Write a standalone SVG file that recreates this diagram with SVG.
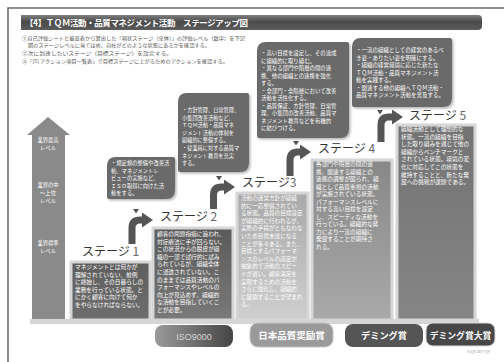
<svg xmlns="http://www.w3.org/2000/svg" width="504" height="362" viewBox="0 0 504 362">
<defs>
<style>
text{font-family:"Noto Sans CJK JP","Noto Sans CJK SC",sans-serif}
.hd{font-size:8.5px;font-weight:700;fill:#fff}
.ins{font-size:5px;fill:#555}
.lbl{font-size:12px;fill:#333}
.lbl tspan.n{fill:#666}
.bt{font-size:5.7px;fill:#fff}
.ct{font-size:5.3px;fill:#fff}
.at{font-size:5.3px;fill:#fff;text-anchor:middle}
.call{fill:#6a6a6a;filter:url(#sh)}
.stg{stroke:#d6d6d6;stroke-width:3}
.curv{stroke:#555;stroke-width:7;fill:none;marker-end:url(#ah)}
.tri{fill:#555}
.aw{font-size:9.5px;font-weight:700;fill:#fff;text-anchor:middle}
</style>
<marker id="ah" markerUnits="userSpaceOnUse" markerWidth="11" markerHeight="15" viewBox="0 0 11 15" refX="0" refY="7.5" orient="auto">
<path d="M0,0 L11,7.5 L0,15 Z" fill="#555"/>
</marker>
<filter id="sh" x="-10%" y="-10%" width="130%" height="130%">
<feDropShadow dx="1.5" dy="1.5" stdDeviation="1" flood-color="#000" flood-opacity="0.3"/>
</filter>
<linearGradient id="ghd" x1="0" y1="0" x2="0" y2="1"><stop offset="0" stop-color="#808080"/><stop offset="0.45" stop-color="#4a4a4a"/><stop offset="1" stop-color="#5c5c5c"/></linearGradient>
<linearGradient id="g1" x1="0" y1="0" x2="0" y2="1"><stop offset="0" stop-color="#5e5e5e"/><stop offset="1" stop-color="#6e6e6e"/></linearGradient>
<linearGradient id="g2" x1="0" y1="0" x2="0" y2="1"><stop offset="0" stop-color="#5a5a5a"/><stop offset="1" stop-color="#7a7a7a"/></linearGradient>
<linearGradient id="g3" x1="0" y1="0" x2="0" y2="1"><stop offset="0" stop-color="#a9a9a9"/><stop offset="1" stop-color="#cfcfcf"/></linearGradient>
<linearGradient id="g4" x1="0" y1="0" x2="0" y2="1"><stop offset="0" stop-color="#888"/><stop offset="1" stop-color="#a9a9a9"/></linearGradient>
<linearGradient id="g5" x1="0" y1="0" x2="0" y2="1"><stop offset="0" stop-color="#737373"/><stop offset="1" stop-color="#858585"/></linearGradient>
<linearGradient id="giso" x1="0" y1="0" x2="1" y2="0"><stop offset="0" stop-color="#9a9a9a"/><stop offset="1" stop-color="#454545"/></linearGradient>
</defs>

<rect width="504" height="362" fill="#fff"/>
<!-- page frame -->
<path d="M8,362 V8 H504" fill="none" stroke="#6e6e6e" stroke-width="1.6"/>

<!-- header -->
<g id="header">
<path d="M21,15 H478 Q482,15 482,19 V26 Q482,30 478,30 H21 Z" fill="url(#ghd)"/>
<text class="hd" x="25" y="26" textLength="223" lengthAdjust="spacing">【4】ＴＱＭ活動・品質マネジメント活動　ステージアップ図</text>
</g>

<g id="instructions">
<text class="ins" x="22" y="40" textLength="223" lengthAdjust="spacingAndGlyphs">①自己評価シートと審査表から算出した「現状ステージ（全体）」の評価レベル（数字）を下記</text>
<text class="ins" x="28" y="47" textLength="182" lengthAdjust="spacingAndGlyphs">図のステージレベルに当てはめ、自社がどのような状態にあるかを確認する。</text>
<text class="ins" x="22" y="55" textLength="150" lengthAdjust="spacingAndGlyphs">②次に到達したいステージ（目標ステージ）を設定する。</text>
<text class="ins" x="22" y="63" textLength="206" lengthAdjust="spacingAndGlyphs">③「[5] アクション項目一覧表」で目標ステージに上がるためのアクションを確認する。</text>
</g>

<!-- level arrow -->
<g id="level-arrow">
<polygon points="48,117 70,135 65,135 65,320 32,320 32,135 27,135" fill="#8a8a8a"/>
<text class="at"><tspan x="48" y="142">業界最高</tspan><tspan x="48" y="150">レベル</tspan></text>
<text class="at"><tspan x="48" y="187">業界の中</tspan><tspan x="48" y="195">〜上位</tspan><tspan x="48" y="203">レベル</tspan></text>
<text class="at"><tspan x="48" y="245">業界標準</tspan><tspan x="48" y="253">レベル</tspan></text>
</g>

<rect x="30" y="319" width="449" height="5" fill="#d6d6d6"/>

<!-- stage 1 -->
<g id="stage1">
<text class="lbl" x="82" y="256">ステージ <tspan class="n">1</tspan></text>
<rect class="stg" x="71" y="262" width="79" height="58" fill="url(#g1)"/>
<text class="bt">
<tspan x="75" y="269">マネジメントとは何かが</tspan>
<tspan x="75" y="276.6">理解されていない、前例</tspan>
<tspan x="75" y="284.2">に終始し、その日暮らしの</tspan>
<tspan x="75" y="291.8">業務を行っている状態。と</tspan>
<tspan x="75" y="299.4">にかく顧客に向けて何か</tspan>
<tspan x="75" y="307">をやらなければならない。</tspan>
</text>
</g>

<!-- stage 2 -->
<g id="stage2">
<text class="lbl" x="160" y="221">ステージ <tspan class="n">2</tspan></text>
<rect class="stg" x="153" y="228" width="80" height="92" fill="url(#g2)"/>
<text class="bt">
<tspan x="157" y="236">顧客の問題指摘に追われ、</tspan>
<tspan x="157" y="243.6">対症療法に手が回らない。</tspan>
<tspan x="157" y="251.2">この状況からの脱皮が組</tspan>
<tspan x="157" y="258.8">織の一部で試行的に試み</tspan>
<tspan x="157" y="266.4">られているが、組織全体</tspan>
<tspan x="157" y="274">に浸透されていない。こ</tspan>
<tspan x="157" y="281.6">のままでは品質活動のパ</tspan>
<tspan x="157" y="289.2">フォーマンスやレベルの</tspan>
<tspan x="157" y="296.8">向上が見込めず、組織的</tspan>
<tspan x="157" y="304.4">な活動を目指していくこ</tspan>
<tspan x="157" y="312">とが必要。</tspan>
</text>
</g>

<!-- stage 3 -->
<g id="stage3">
<text class="lbl" x="242" y="187">ステージ<tspan class="n">3</tspan></text>
<rect class="stg" x="237" y="193" width="71" height="127" fill="url(#g3)"/>
<text class="bt" style="font-size:5.6px">
<tspan x="241" y="200">活動の運営方針が組織</tspan>
<tspan x="241" y="207.6">的に一応整備されてい</tspan>
<tspan x="241" y="215.2">る状態。品質の目標設定</tspan>
<tspan x="241" y="222.8">が組織的に行われるが、</tspan>
<tspan x="241" y="230.4">実際の手段がともなわな</tspan>
<tspan x="241" y="238">いため目標未達になる</tspan>
<tspan x="241" y="245.6">ことが多々ある。また、</tspan>
<tspan x="241" y="253.2">目標とするパフォーマ</tspan>
<tspan x="241" y="260.8">ンスのレベルの設定が</tspan>
<tspan x="241" y="268.4">抽象的で活動のスピー</tspan>
<tspan x="241" y="276">ドが遅い。顧客満足を</tspan>
<tspan x="241" y="283.6">実現するための活動を</tspan>
<tspan x="241" y="291.2">さらに強化し、組織的</tspan>
<tspan x="241" y="298.8">に展開することが望まれ</tspan>
<tspan x="241" y="306.4">る。</tspan>
</text>
</g>

<!-- stage 4 -->
<g id="stage4">
<text class="lbl" x="318" y="153">ステージ <tspan class="n">4</tspan></text>
<rect class="stg" x="312" y="160" width="80" height="160" fill="url(#g4)"/>
<text class="bt">
<tspan x="316" y="166">各部門や階層の間の連</tspan>
<tspan x="316" y="173.5">携、関連する組織との</tspan>
<tspan x="316" y="181">連携の調整が図られ、組</tspan>
<tspan x="316" y="188.5">織として品質重視の活動</tspan>
<tspan x="316" y="196">が実施されている状態。</tspan>
<tspan x="316" y="203.5">パフォーマンスレベルに</tspan>
<tspan x="316" y="211">対する高い目標を設定</tspan>
<tspan x="316" y="218.5">し、スピーディな活動を</tspan>
<tspan x="316" y="226">行っている。組織的な努</tspan>
<tspan x="316" y="233.5">力により一流の組織に</tspan>
<tspan x="316" y="241">発展することが期待さ</tspan>
<tspan x="316" y="248.5">れる。</tspan>
</text>
</g>

<!-- stage 5 -->
<g id="stage5">
<text class="lbl" x="409" y="120">ステージ <tspan class="n">5</tspan></text>
<rect class="stg" x="397" y="125" width="78" height="195" fill="url(#g5)"/>
<text class="bt">
<tspan x="401" y="131">組織活動として理想的な</tspan>
<tspan x="401" y="138.6">状態。一流の組織を目指</tspan>
<tspan x="401" y="146.2">した取り組みを通じて他の</tspan>
<tspan x="401" y="153.8">組織からベンチマークと</tspan>
<tspan x="401" y="161.4">されている状態。環境の変</tspan>
<tspan x="401" y="169">化に対応してこの状態を</tspan>
<tspan x="401" y="176.6">維持することと、新たな発</tspan>
<tspan x="401" y="184.2">展への挑戦が課題である。</tspan>
</text>
</g>

<!-- callouts -->
<g id="callout1">
<path class="call" d="M116,157 H173 Q175,157 175,159 V190 Q175,199 166,199 H109 Q107,199 107,197 V166 Q107,157 116,157 Z"/>
<text class="ct">
<tspan x="111" y="165">・規定類の整備や改善活</tspan>
<tspan x="111" y="172.5">動、マネジメントレ</tspan>
<tspan x="111" y="180">ビューの実施など、</tspan>
<tspan x="111" y="187.5">ＩＳＯ取得に向けた活</tspan>
<tspan x="111" y="195">動をする。</tspan>
</text>
</g>
<g id="callout2">
<path class="call" d="M187,93 H247 Q249,93 249,95 V163 Q249,172 240,172 H180 Q178,172 178,170 V102 Q178,93 187,93 Z"/>
<text class="ct" style="font-size:5.2px">
<tspan x="182" y="112">・方針管理、日常管理、</tspan>
<tspan x="182" y="119.6">小集団改善活動など、</tspan>
<tspan x="182" y="127.2">ＴＱＭ活動・品質マネ</tspan>
<tspan x="182" y="134.8">ジメント活動の体制を</tspan>
<tspan x="182" y="142.4">組織的に整備する。</tspan>
<tspan x="182" y="150">・従業員に対する品質マ</tspan>
<tspan x="182" y="157.6">ネジメント教育を充実</tspan>
<tspan x="182" y="165.2">する。</tspan>
</text>
</g>
<g id="callout3">
<path class="call" d="M266,42 H347 Q349,42 349,44 V129 Q349,138 340,138 H259 Q257,138 257,136 V51 Q257,42 266,42 Z"/>
<text class="ct" style="font-size:5.4px">
<tspan x="261" y="55">・高い目標を設定し、その達成</tspan>
<tspan x="261" y="62.5">に組織的に取り組む。</tspan>
<tspan x="261" y="70">・異なる部門や階層の間の連</tspan>
<tspan x="261" y="77.5">携、他の組織との連携を強化</tspan>
<tspan x="261" y="85">する。</tspan>
<tspan x="261" y="92.5">・全部門・全階層において改善</tspan>
<tspan x="261" y="100">活動を活性化する。</tspan>
<tspan x="261" y="107.5">・品質保証、方針管理、日常管</tspan>
<tspan x="261" y="115">理、小集団の改善活動、品質マ</tspan>
<tspan x="261" y="122.5">ネジメント教育などを有機的</tspan>
<tspan x="261" y="130">に結びつける。</tspan>
</text>
</g>
<g id="callout4">
<path class="call" d="M361,38 H450 Q452,38 452,40 V98 Q452,107 443,107 H354 Q352,107 352,105 V47 Q352,38 361,38 Z"/>
<text class="ct" style="font-size:5.5px">
<tspan x="356" y="52">・一流の組織としての経営のあるべ</tspan>
<tspan x="356" y="59.5">き姿・ありたい姿を明確にする。</tspan>
<tspan x="356" y="67">・組織の経営環境に応じた新たな</tspan>
<tspan x="356" y="74.5">ＴＱＭ活動・品質マネジメント活</tspan>
<tspan x="356" y="82">動を実践する。</tspan>
<tspan x="356" y="89.5">・関連する他の組織へＴＱＭ活動・</tspan>
<tspan x="356" y="97">品質マネジメント活動を普及する。</tspan>
</text>
</g>

<!-- connectors -->
<g id="connectors">
<path class="curv" d="M132,244 V228 Q132,220 140,220 H142"/>
<path class="curv" d="M213.5,209 V195 Q213.5,187 221.5,187 H224"/>
<path class="curv" d="M290,176 V160 Q290,152 298,152 H300"/>
<path class="curv" d="M381,142 V125 Q381,117 389,117 H392"/>
<polygon class="tri" points="133,209 139,209 136,213.5"/>
<polygon class="tri" points="216,176 222,176 219,180.5"/>
<polygon class="tri" points="293,141 299,141 296,145.5"/>
<polygon class="tri" points="377,110 383,110 380,114.5"/>
</g>

<!-- awards -->
<g id="award-iso">
<rect x="155" y="325" width="78" height="22" rx="8" fill="url(#giso)"/>
<text x="194" y="339.5" text-anchor="middle" style="font-family:'Liberation Sans',sans-serif;font-size:9px;fill:#d4d4d4">ISO9000</text>
</g>
<g id="award-jqa">
<rect x="250" y="323" width="83" height="24" rx="8" fill="#9a9a9a" stroke="#c4c4c4" stroke-width="1"/>
<text class="aw" x="291.5" y="339">日本品質奨励賞</text>
</g>
<g id="award-deming">
<rect x="345" y="324" width="78" height="23" rx="8" fill="#555"/>
<text class="aw" x="384" y="339" style="font-size:9.2px">デミング賞</text>
</g>
<g id="award-deming-grand">
<rect x="426" y="323" width="69" height="23" rx="7" fill="#474747" stroke="#dcdcdc" stroke-width="1"/>
<text class="aw" x="460.5" y="338.5" style="font-size:8.8px">デミング賞大賞</text>
</g>
<text x="490" y="353" text-anchor="end" style="font-size:3px;fill:#999">©JQA 2007 TQM</text>
</svg>
